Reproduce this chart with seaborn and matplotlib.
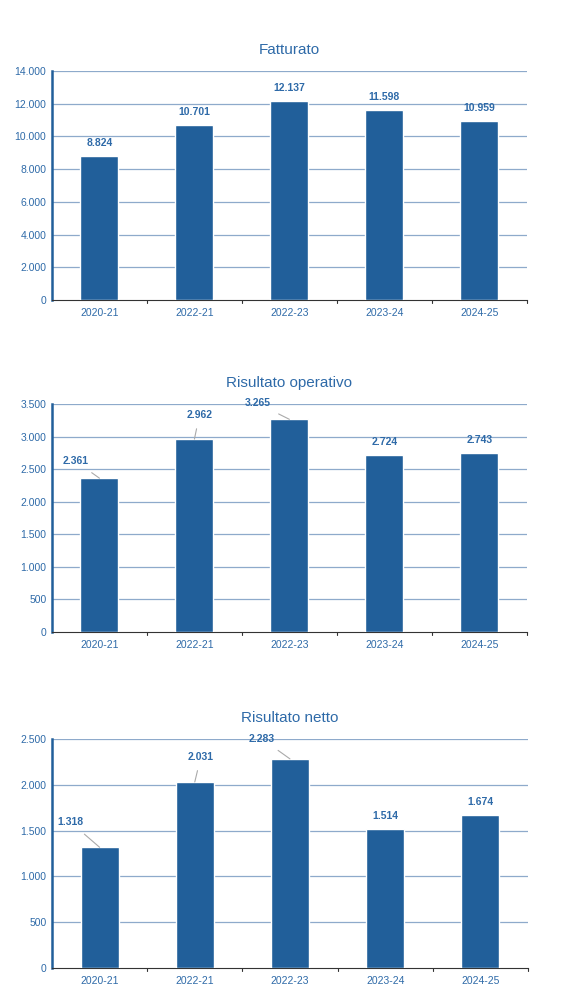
import matplotlib
matplotlib.use("Agg")
import matplotlib.pyplot as plt
import seaborn as sns
import pandas as pd

sns.set_theme(style="white")
plt.rcParams["font.family"] = ["Liberation Sans", "DejaVu Sans"]

BAR = "#215f9a"
GRID = "#8eaacb"
TXT = "#2e6aa8"

TITLES = ["Fatturato", "Risultato operativo", "Risultato netto"]
CATS_1 = ["2020-21", "2022-21", "2022-23", "2023-24", "2024-25"]
CATS_2 = ["2020-21", "2022-21", "2022-23", "2023-24", "2024-25"]
CATS_3 = ["2020-21", "2022-21", "2022-23", "2023-24", "2024-25"]
FATTURATO = [8824, 10701, 12137, 11598, 10959]
OPERATIVO = [2361, 2962, 3265, 2724, 2743]
NETTO = [1318, 2031, 2283, 1514, 1674]
YMAX = [14000, 3500, 2500]
YSTEP = [2000, 500, 500]

# label offsets in pixels (dx, dy, leader line?)
OFFS = [
    [(0, 13, False)] * 5,
    [(-24, 17, True), (5, 24, True), (-32, 16, True), (0, 13, False), (0, 13, False)],
    [(-29, 25, True), (6, 25, True), (-28, 20, True), (0, 13, False), (0, 13, False)],
]

fig = plt.figure(figsize=(5.79, 10.06), dpi=100)
boxes = [(0.0898, 0.7018, 0.820, 0.2276),
         (0.0898, 0.3718, 0.820, 0.2266),
         (0.0898, 0.0378, 0.822, 0.2276)]

def fmt(v):
    return f"{v:,}".replace(",", ".")

for i, (cats, vals) in enumerate([(CATS_1, FATTURATO), (CATS_2, OPERATIVO), (CATS_3, NETTO)]):
    ax = fig.add_axes(boxes[i])
    df = pd.DataFrame({"cat": cats, "val": vals})
    sns.barplot(data=df, x="cat", y="val", color=BAR, saturation=1, width=0.4, ax=ax, zorder=3)
    ax.set_xlim(-0.5, 4.5)
    ax.set_ylim(0, YMAX[i])
    ticks = list(range(0, YMAX[i] + 1, YSTEP[i]))
    ax.set_yticks(ticks)
    ax.set_yticklabels([fmt(t) for t in ticks], fontsize=7.5, color=TXT)
    ax.tick_params(axis="x", labelsize=7.5, labelcolor=TXT, length=0, pad=6)
    ax.tick_params(axis="y", length=0, pad=4)
    ax.set_xlabel("")
    ax.set_ylabel("")
    for t in ticks[1:]:
        ax.axhline(t, color=GRID, lw=0.9, zorder=1)
    for s in ["top", "right"]:
        ax.spines[s].set_visible(False)
    ax.spines["left"].set_color(BAR)
    ax.spines["left"].set_linewidth(1.8)
    ax.spines["bottom"].set_color("#333333")
    ax.spines["bottom"].set_linewidth(0.8)
    for b in [0.5, 1.5, 2.5, 3.5, 4.5]:
        ax.plot([b, b], [0, -0.015], transform=ax.get_xaxis_transform(),
                color="#333333", lw=0.8, clip_on=False)
    ax.set_title(TITLES[i], fontsize=11, color=TXT, pad=12)
    for j, v in enumerate(vals):
        dx, dy, lead = OFFS[i][j]
        ax.annotate(fmt(v), xy=(j, v), xytext=(dx, dy), textcoords="offset pixels",
                    ha="center", va="center", fontsize=7.5, fontweight="bold", color=TXT,
                    arrowprops=dict(arrowstyle="-", color="#aaaaaa", lw=0.8,
                                    shrinkA=4, shrinkB=0) if lead else None,
                    zorder=5)

fig.savefig("out.png", dpi=100, facecolor="white")
